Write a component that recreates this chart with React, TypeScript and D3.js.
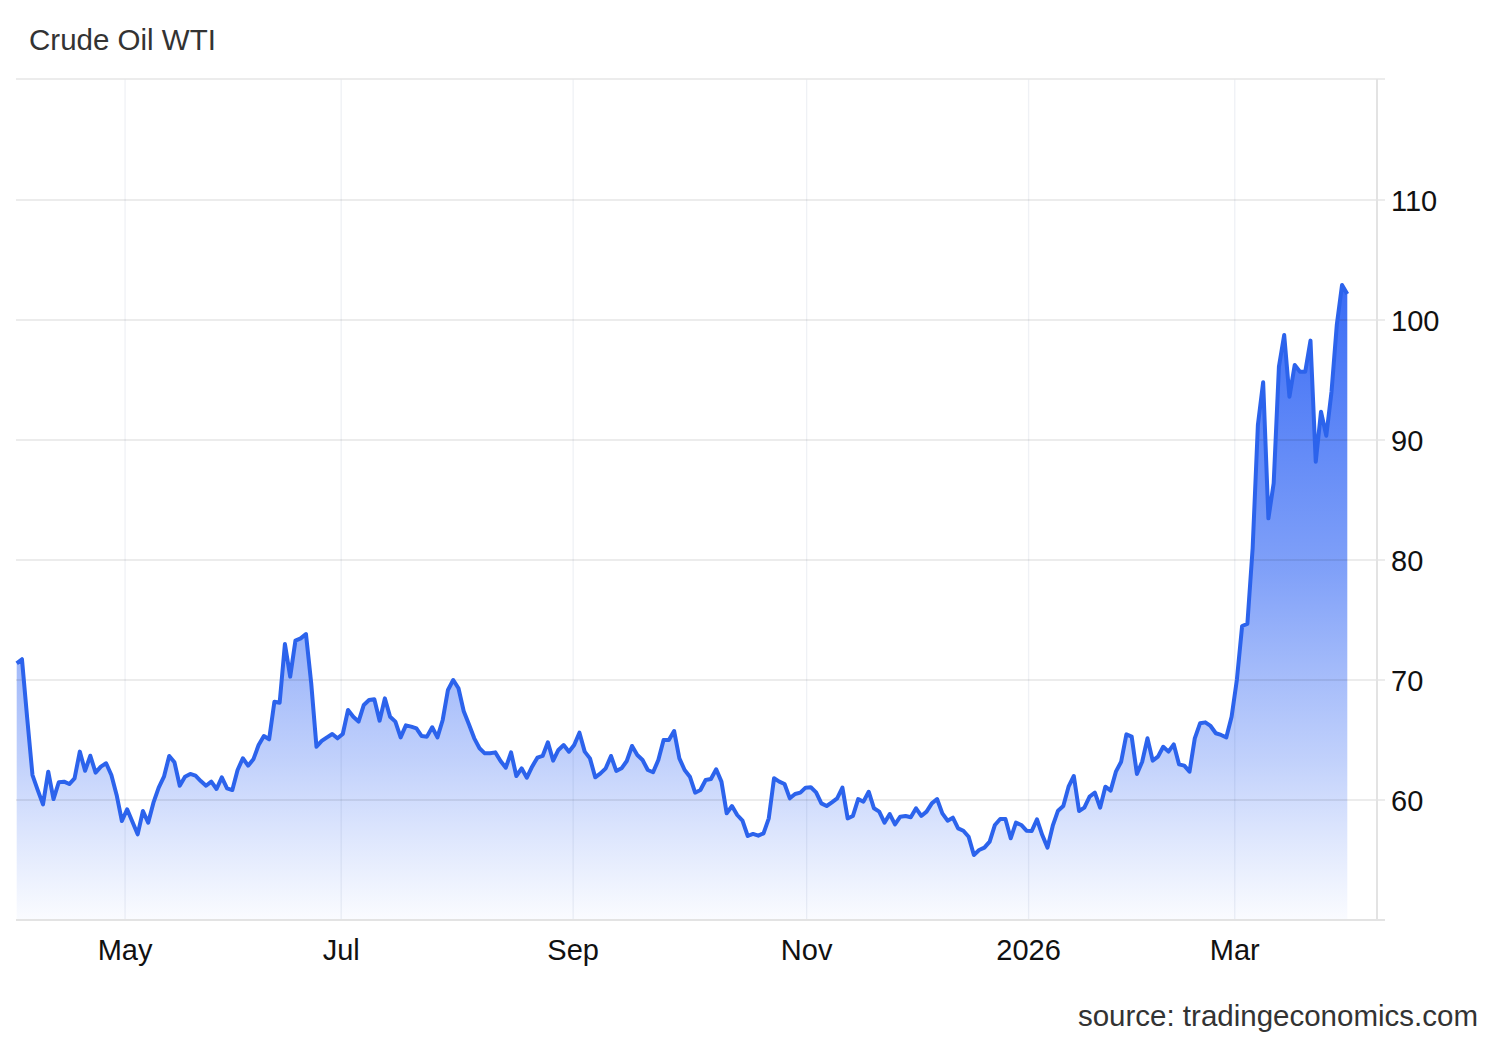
import React from "react";
import * as d3 from "d3";

const title = "Crude Oil WTI";
const source = "source: tradingeconomics.com";

// daily closes (trading-day index order)
const prices: number[] = [
  71.39, 71.73, 66.8, 62.08, 60.83, 59.64, 62.36, 60.08, 61.48, 61.53,
  61.33, 61.81, 64.03, 62.44, 63.69, 62.28, 62.78, 63.06, 62.08, 60.42,
  58.25, 59.23, 58.19, 57.14, 59.08, 58.11, 59.78, 61.03, 61.94, 63.67,
  63.14, 61.19, 61.94, 62.17, 62.03, 61.58, 61.19, 61.53, 60.92, 61.89,
  60.97, 60.83, 62.5, 63.48, 62.86, 63.39, 64.58, 65.33, 65.06, 68.19,
  68.11, 73.0, 70.28, 73.28, 73.47, 73.83, 69.73, 64.44, 64.92, 65.22,
  65.5, 65.14, 65.5, 67.5, 66.94, 66.53, 67.92, 68.33, 68.39, 66.61,
  68.47, 66.94, 66.53, 65.22, 66.22, 66.11, 65.97, 65.33, 65.28, 66.06,
  65.22, 66.67, 69.17, 70.0, 69.31, 67.4, 66.3, 65.14, 64.31, 63.89,
  63.89, 63.97, 63.25, 62.69, 63.97, 62.0, 62.64, 61.86, 62.78, 63.53,
  63.67, 64.81, 63.28, 64.17, 64.58, 64.03, 64.58, 65.61, 64.03, 63.47,
  61.89, 62.22, 62.64, 63.67, 62.42, 62.64, 63.25, 64.5, 63.75, 63.33,
  62.5, 62.31, 63.33, 65.0, 65.0, 65.75, 63.47, 62.5, 61.94, 60.61,
  60.83, 61.67, 61.75, 62.56, 61.53, 58.89, 59.5, 58.75, 58.28, 57.0,
  57.17, 57.03, 57.22, 58.47, 61.81, 61.53, 61.33, 60.14, 60.5, 60.61,
  61.03, 61.06, 60.64, 59.72, 59.5, 59.81, 60.14, 61.03, 58.47, 58.67,
  60.08, 59.86, 60.69, 59.31, 59.03, 58.11, 58.83, 57.97, 58.61, 58.67,
  58.56, 59.31, 58.67, 59.03, 59.72, 60.08, 58.89, 58.28, 58.53, 57.64,
  57.44, 56.94, 55.42, 55.83, 56.03, 56.53, 57.92, 58.42, 58.42, 56.81,
  58.11, 57.92, 57.44, 57.42, 58.39, 57.08, 56.03, 57.86, 59.11, 59.5,
  61.11, 62.0, 59.08, 59.36, 60.28, 60.61, 59.36, 61.11, 60.78, 62.36,
  63.19, 65.47, 65.28, 62.17, 63.19, 65.14, 63.28, 63.61, 64.44, 64.03,
  64.64, 62.97, 62.86, 62.36, 65.14, 66.39, 66.47, 66.17, 65.56, 65.42,
  65.22, 66.94, 70.0, 74.5, 74.67, 80.97, 91.25, 94.81, 83.47, 86.39,
  96.11, 98.75, 93.61, 96.25, 95.69, 95.69, 98.28, 88.19, 92.36, 90.36,
  94.03, 99.58, 102.92, 102.17,
];

const monthTickLabels = ["May", "Jul", "Sep", "Nov", "2026", "Mar"];
// position of each month start on the trading-day index
const monthTickIndex = [20.6, 61.7, 105.8, 150.2, 192.4, 231.6];

const yTickValues = [60, 70, 80, 90, 100, 110];

const W = 1500;
const H = 1040;
const plotLeft = 16;
const plotRight = 1377;
const plotTop = 80;
const plotBottom = 920;

export default function App() {
  const x = d3
    .scaleLinear()
    .domain([0, prices.length - 1])
    .range([16.7, 1347.3]);
  const y = d3.scaleLinear().domain([50, 120]).range([plotBottom, plotTop]);

  const data = prices.map((v, i) => ({ i, v }));
  const line = d3
    .line<{ i: number; v: number }>()
    .x((d) => x(d.i))
    .y((d) => y(d.v));
  const area = d3
    .area<{ i: number; v: number }>()
    .x((d) => x(d.i))
    .y0(plotBottom)
    .y1((d) => y(d.v));

  const maxV = d3.max(prices) as number;
  const font = "'Liberation Sans', Arial, Helvetica, sans-serif";

  return (
    <svg
      width={W}
      height={H}
      style={{ position: "absolute", left: 0, top: 0, background: "#fff" }}
      fontFamily={font}
    >
      <defs>
        <linearGradient
          id="fillGrad"
          gradientUnits="userSpaceOnUse"
          x1={0}
          x2={0}
          y1={y(maxV)}
          y2={plotBottom}
        >
          <stop offset="0%" stopColor="#3a6cf5" stopOpacity={1} />
          <stop offset="45%" stopColor="#3f70f5" stopOpacity={0.66} />
          <stop offset="75%" stopColor="#4a78f5" stopOpacity={0.34} />
          <stop offset="100%" stopColor="#5a85f6" stopOpacity={0.03} />
        </linearGradient>
      </defs>
      <rect x={0} y={0} width={W} height={H} fill="#fff" />

      {/* title */}
      <text x={29} y={50} fontSize={29.5} fill="#333">
        {title}
      </text>

      {/* area */}
      <path d={area(data) ?? ""} fill="url(#fillGrad)" />

      {/* vertical grid */}
      {monthTickIndex.map((t, k) => (
        <line
          key={"vg" + k}
          x1={x(t)}
          x2={x(t)}
          y1={plotTop - 1}
          y2={plotBottom}
          stroke="#1e3c78"
          strokeOpacity={0.07}
          strokeWidth={1.3}
        />
      ))}
      {/* horizontal grid */}
      {yTickValues.map((v) => (
        <line
          key={"hg" + v}
          x1={plotLeft}
          x2={plotRight + 8}
          y1={y(v)}
          y2={y(v)}
          stroke="#000"
          strokeOpacity={0.1}
          strokeWidth={1.5}
        />
      ))}
      {/* top border */}
      <line
        x1={plotLeft}
        x2={plotRight + 8}
        y1={plotTop - 1}
        y2={plotTop - 1}
        stroke="#e6e6e6"
        strokeWidth={1.5}
      />

      {/* line */}
      <path
        d={line(data) ?? ""}
        fill="none"
        stroke="#2c63ec"
        strokeWidth={4}
        strokeLinejoin="round"
      />

      {/* axes lines */}
      <line
        x1={plotLeft}
        x2={plotRight + 8}
        y1={plotBottom}
        y2={plotBottom}
        stroke="#e3e3e3"
        strokeWidth={2}
      />
      <line
        x1={plotRight}
        x2={plotRight}
        y1={plotTop - 1}
        y2={plotBottom}
        stroke="#e3e3e3"
        strokeWidth={2}
      />

      {/* y labels */}
      {yTickValues.map((v) => (
        <text
          key={"yl" + v}
          x={1391}
          y={y(v) + 10.5}
          fontSize={29}
          fill="#111"
        >
          {v}
        </text>
      ))}

      {/* x labels */}
      {monthTickIndex.map((t, k) => (
        <text
          key={"xl" + k}
          x={x(t)}
          y={960}
          fontSize={29}
          fill="#111"
          textAnchor="middle"
        >
          {monthTickLabels[k]}
        </text>
      ))}

      {/* source */}
      <text x={1478} y={1026} fontSize={29.5} fill="#333" textAnchor="end">
        {source}
      </text>
    </svg>
  );
}
